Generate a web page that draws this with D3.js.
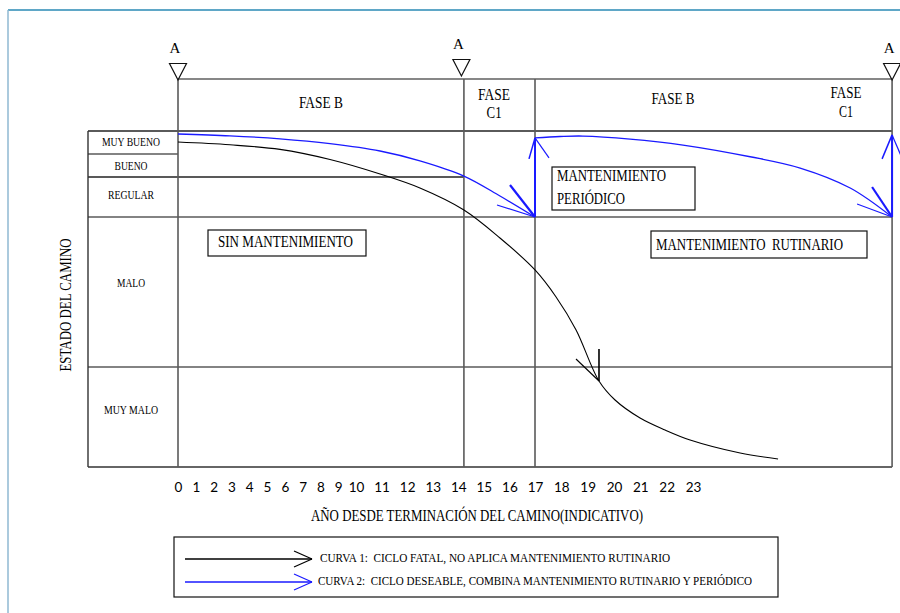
<!DOCTYPE html>
<html><head><meta charset="utf-8">
<script src="https://cdn.jsdelivr.net/npm/d3@7"></script>
<style>body{margin:0;background:#fff} text{white-space:pre}</style>
</head><body><svg id="c" width="900" height="613"></svg>
<script>
// ---------- data ----------
const tickYears = d3.range(0, 24);
const conditionLabels = ["MUY BUENO", "BUENO", "REGULAR", "MALO", "MUY MALO"];
const conditionBounds = [5, 4, 3, 2, 1, 0];          // score boundaries (top -> bottom)
const phaseBounds = [0, 14.22, 17, 30.56];             // years where phase columns change
const phaseHeaders = [["FASE B"], ["FASE", "C1"], ["FASE B"], ["FASE", "C1"]];
const phaseHeaderYears = [8.03, 15.4, 22.24, 28.81];
const markerYears = [0, 14.22, 30.56];                 // "A" markers
// curve 1: fatal cycle (no routine maintenance)  [year, condition score]
const curveFatal = [[0,4.52],[2.92,4.4],[5.73,4.2],[8.54,3.76],[10.94,3.13],[12.5,2.725],
  [14.22,2.175],[15.63,1.86],[17,1.647],[17.8,1.467],[18.56,1.247],[19.43,0.86],[20.04,0.67],
  [20.99,0.49],[21.94,0.37],[22.89,0.27],[24.79,0.14],[26.23,0.08]];
const fatalArrowAt = [19.43, 0.86];
// curve 2: desirable cycle (routine + periodic maintenance)
const curveGood1 = [[0,4.87],[2.92,4.79],[5.73,4.66],[8.54,4.45],[10.94,4.13],[12.5,3.7],
  [14.22,3.04],[15.63,2.525],[17,2]];
const curveGood2 = [[17,4.7],[17.95,4.76],[18.82,4.78],[20.61,4.65],[22.62,4.39],[25.17,3.88],
  [27.07,3.39],[28.97,2.725],[30.56,2]];
const resets = [[17, 2, 4.7], [30.56, 2, 4.83]];       // periodic maintenance jumps
const boxLabels = [["SIN MANTENIMIENTO"], ["MANTENIMIENTO", "PERIÓDICO"], ["MANTENIMIENTO  RUTINARIO"]];
const legendLabels = ["CURVA 1:  CICLO FATAL, NO APLICA MANTENIMIENTO RUTINARIO",
  "CURVA 2:  CICLO DESEABLE, COMBINA MANTENIMIENTO RUTINARIO Y PERIÓDICO"];

// ---------- scales ----------
const x = d3.scaleLinear().domain([0, 10, 17, 23]).range([178, 356, 535, 693]);
const y = d3.scaleLinear().domain(conditionBounds).range([131, 154, 177, 217, 367, 467]);

const svg = d3.select("#c");
const SERIF = "'Liberation Serif','Times New Roman',serif";
function text(g, px, py, s, o = {}) {
  const t = g.append("text").attr("x", px).attr("y", py).text(s)
    .attr("font-family", o.family || SERIF)
    .attr("font-size", o.size || 14)
    .attr("fill", o.fill || "#000")
    .attr("text-anchor", o.anchor || "start");
  if (o.width) t.attr("textLength", o.width).attr("lengthAdjust", "spacingAndGlyphs");
  return t;
}
function line(g, x1, y1, x2, y2, stroke, w) {
  return g.append("line").attr("x1", x1).attr("y1", y1).attr("x2", x2).attr("y2", y2)
    .attr("stroke", stroke).attr("stroke-width", w);
}

// ---------- page frame ----------
line(svg, 8, 10, 900, 10, "#2a8ab4", 1.5);
line(svg, 8, 10, 8, 613, "#8fb9d2", 1.5);

// ---------- grid ----------
const grid = svg.append("g");
const xL = 88, xR = x(phaseBounds[3]);
const GRID = "#5a5a5a";
line(grid, x(0), 79, xR, 79, "#111", 1.2);
line(grid, xL, y(5), xR, y(5), GRID, 2);
line(grid, xL, y(4), x(0), y(4), GRID, 1.5);
line(grid, xL, y(3), x(phaseBounds[1]), y(3), "#222", 1.3);
line(grid, xL, y(2), xR, y(2), GRID, 1.6);
line(grid, xL, y(1), xR, y(1), GRID, 1.6);
line(grid, xL, y(0), xR, y(0), "#333", 1.6);
line(grid, xL, y(5), xL, y(0), "#333", 1.4);
phaseBounds.forEach(p => line(grid, x(p), 79, x(p), y(0), GRID, 1.6));

// condition labels
const labelY = [145.5, 169.5, 199, 287, 414];
const labelW = [58, 33, 46, 28, 54];
conditionLabels.forEach((c, i) => text(svg, 131, labelY[i], c, {size: 12, anchor: "middle", width: labelW[i]}));

// y title
text(svg, 0, 0, "ESTADO DEL CAMINO", {size: 17, anchor: "middle", width: 133})
  .attr("transform", "translate(71,305) rotate(-90)");

// phase headers
const headW = [[44], [32, 15], [43], [31, 14]];
const headY = [[108], [100, 118], [104], [98, 117]];
phaseHeaders.forEach((h, i) => h.forEach((s, j) =>
  text(svg, x(phaseHeaderYears[i]), headY[i][j], s, {size: 17, anchor: "middle", width: headW[i][j]})));

// "A" markers
markerYears.forEach((m, i) => {
  const cx = x(m) + (i === 1 ? -2.5 : 0), dy = i === 1 ? -4 : 0;
  text(svg, cx - 3, 53 + dy, "A", {size: 15, anchor: "middle"});
  svg.append("path").attr("d", `M${cx-8.5},${63.5+dy} L${cx+8.5},${63.5+dy} L${cx},${80+dy} Z`)
    .attr("fill", "none").attr("stroke", "#111").attr("stroke-width", 1.2);
});

// ---------- annotation boxes ----------
const boxes = [[208, 230, 158, 26], [552, 167, 143, 43], [651, 231, 216, 27]];
const boxText = [[[218, 247, 135]], [[557, 181, 109], [557, 204, 68]], [[656, 250, 187]]];
boxes.forEach((b, i) => {
  svg.append("rect").attr("x", b[0]).attr("y", b[1]).attr("width", b[2]).attr("height", b[3])
    .attr("fill", "none").attr("stroke", "#111").attr("stroke-width", 1.2);
  boxLabels[i].forEach((s, j) => text(svg, boxText[i][j][0], boxText[i][j][1], s, {size: 16, width: boxText[i][j][2]}));
});

// ---------- curves ----------
const lg = d3.line().x(d => x(d[0])).y(d => y(d[1])).curve(d3.curveCatmullRom.alpha(0.5));
const BLUE = "#1a1aff";
svg.append("path").attr("d", lg(curveFatal)).attr("fill", "none").attr("stroke", "#000").attr("stroke-width", 1.1);
svg.append("path").attr("d", lg(curveGood1)).attr("fill", "none").attr("stroke", BLUE).attr("stroke-width", 1.3);
svg.append("path").attr("d", lg(curveGood2)).attr("fill", "none").attr("stroke", BLUE).attr("stroke-width", 1.3);
resets.forEach(r => line(svg, x(r[0]), y(r[1]), x(r[0]), y(r[2]), BLUE, 2));

function barbs(px, py, list, stroke) {
  list.forEach(b => line(svg, px, py, px + b[0], py + b[1], stroke, b[2]));
}
// fatal arrow
barbs(x(fatalArrowAt[0]), y(fatalArrowAt[1]), [[0, -32, 1.6], [-23, -22, 1.1]], "#000");
// blue arrows (end of decay, top of reset)
barbs(x(curveGood1[curveGood1.length-1][0]), y(curveGood1[curveGood1.length-1][1]), [[-25, -32, 2.2], [-38, -12, 1.2]], BLUE);
barbs(x(curveGood2[curveGood2.length-1][0]), y(curveGood2[curveGood2.length-1][1]), [[-20, -30, 2.2], [-35, -13, 1.2]], BLUE);
barbs(x(resets[0][0]), y(resets[0][2]), [[-6, 21, 1.5], [14, 20, 1.2]], BLUE);
barbs(x(resets[1][0]), y(resets[1][2]), [[-10, 24, 1.5], [9, 21, 1.2]], BLUE);

// ---------- x axis ----------
const ax = svg.append("g").attr("transform", "translate(0,482)")
  .call(d3.axisBottom(x).tickValues(tickYears).tickSize(0).tickPadding(0));
ax.select(".domain").remove();
ax.selectAll("text").attr("font-family", "Lato,'Open Sans',sans-serif").attr("font-size", 13.5).attr("fill", "#000");
text(svg, 477, 521, "AÑO DESDE TERMINACIÓN DEL CAMINO(INDICATIVO)", {size: 16, anchor: "middle", width: 332});

// ---------- legend ----------
svg.append("rect").attr("x", 174).attr("y", 537).attr("width", 604).attr("height", 60)
  .attr("fill", "none").attr("stroke", "#111").attr("stroke-width", 1.2);
const legY = [559, 582], legColors = ["#000", BLUE];
legendLabels.forEach((s, i) => {
  line(svg, 185, legY[i], 312, legY[i], legColors[i], 1.3);
  line(svg, 312, legY[i], 294, legY[i] - 8, legColors[i], 1.2);
  line(svg, 312, legY[i], 294, legY[i] + 8, legColors[i], 1.2);
  text(svg, i === 0 ? 320 : 318, legY[i] + 3, s, {size: 13, width: i === 0 ? 350 : 434});
});
</script></body></html>
